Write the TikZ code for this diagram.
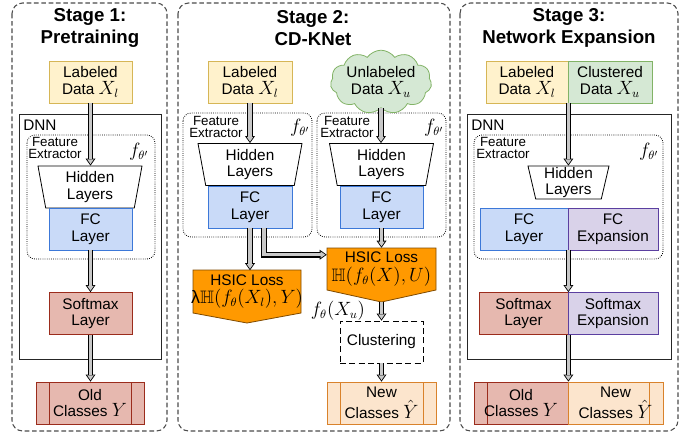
\documentclass[tikz,border=0pt]{standalone}
\usepackage[no-math]{fontspec}
\setmainfont{Liberation Sans}
\usepackage{amssymb}
\usetikzlibrary{shapes.geometric,shapes.symbols,arrows.meta,positioning}

\definecolor{labfill}{HTML}{FFF2CC}
\definecolor{labdraw}{HTML}{D6B656}
\definecolor{unlfill}{HTML}{D5E8D4}
\definecolor{unldraw}{HTML}{82B366}
\definecolor{fcfill}{HTML}{C9DAF8}
\definecolor{fcdraw}{HTML}{3C78D8}
\definecolor{smfill}{HTML}{E6B8AF}
\definecolor{smdraw}{HTML}{9B2C1C}
\definecolor{expfill}{HTML}{D9D2E9}
\definecolor{expdraw}{HTML}{5B3FA0}
\definecolor{newfill}{HTML}{FCE5CD}
\definecolor{newdraw}{HTML}{D9822B}
\definecolor{lossfill}{HTML}{FF9900}
\definecolor{lossdraw}{HTML}{7F4A00}
\definecolor{arrowgray}{HTML}{C8C8C8}

\newcommand{\mx}[1]{{\fontsize{13.5}{12}\selectfont$#1$}}

\begin{document}
\begin{tikzpicture}[
    x=0.75pt, y=-0.75pt,
    font=\fontsize{11.5}{12.5}\selectfont,
    box/.style={draw, line width=0.6pt, minimum width=62.25pt, minimum height=31.5pt, inner sep=0pt, align=center},
    labbox/.style={box, fill=labfill, draw=labdraw},
    unlbox/.style={box, fill=unlfill, draw=unldraw},
    fcbox/.style={box, fill=fcfill, draw=fcdraw},
    smbox/.style={box, fill=smfill, draw=smdraw},
    expbox/.style={box, fill=expfill, draw=expdraw},
    oldbox/.style={box, fill=smfill, draw=smdraw},
    newbox/.style={box, fill=newfill, draw=newdraw},
    clusbox/.style={box, draw=black, dash pattern=on 4.5pt off 2.5pt},
    bars/.style={path picture={\draw[#1, line width=0.6pt]
        ([xshift=9.75pt]path picture bounding box.north west) -- ([xshift=9.75pt]path picture bounding box.south west)
        ([xshift=-9.75pt]path picture bounding box.north east) -- ([xshift=-9.75pt]path picture bounding box.south east);}},
    lbar/.style={path picture={\draw[#1, line width=0.6pt]
        ([xshift=9.75pt]path picture bounding box.north west) -- ([xshift=9.75pt]path picture bounding box.south west);}},
    rbar/.style={path picture={\draw[#1, line width=0.6pt]
        ([xshift=-10.5pt]path picture bounding box.north east) -- ([xshift=-10.5pt]path picture bounding box.south east);}},
    hidbox/.style={trapezium, trapezium left angle=104, trapezium right angle=104, trapezium stretches body,
        draw, line width=0.6pt, fill=white, minimum width=78pt, minimum height=31.5pt, inner sep=0pt, align=center},
    cloudbox/.style={cloud, cloud puffs=11, cloud puff arc=110, aspect=1.9, draw=unldraw, fill=unlfill,
        line width=0.6pt, minimum width=71.25pt, minimum height=36.75pt, inner sep=0pt, align=center},
    lossshape/.style={draw=lossdraw, fill=lossfill, line width=0.6pt, line join=miter},
    losstext/.style={minimum width=81pt, minimum height=31.5pt, inner sep=0pt, align=center},
    titletext/.style={font=\fontsize{14}{16.5}\selectfont\bfseries, align=center},
    fetext/.style={font=\fontsize{10}{9.5}\selectfont, align=center, inner sep=0pt},
    dnntext/.style={anchor=west, inner sep=0pt},
    ftheta/.style={font=\fontsize{13.5}{13.5}\selectfont, inner sep=0pt},
    stageframe/.style={draw=black!70, line width=0.8pt, dash pattern=on 3.5pt off 2pt, rounded corners=8pt},
    dnnframe/.style={draw=black!85, line width=0.7pt},
    feframe/.style={draw=black, line width=0.6pt, densely dotted, rounded corners=6pt},
    flow/.style={draw=black, line width=4.2pt, -{Triangle[length=5.3pt, width=7.5pt, line width=0pt]},
        postaction={draw=arrowgray, line width=2.6pt, -{Triangle[length=3.6pt, width=5pt, line width=0pt, color=arrowgray]}, shorten >=1.07pt}}
    ]
    \useasboundingbox (0,0) rectangle (694,437);

    % frames
    \draw [stageframe] (12,3) rectangle (167,431);
    \draw [stageframe] (178,3) rectangle (450,431);
    \draw [stageframe] (460,3) rectangle (678,431);
    \draw [dnnframe] (19,114) rectangle (161,359);
    \draw [dnnframe] (467,114) rectangle (671,359);
    \draw [feframe] (27,135) rectangle (155,259);
    \draw [feframe] (183,113) rectangle (312,237);
    \draw [feframe] (317,113) rectangle (446,237);
    \draw [feframe] (474,135) rectangle (663,259);

    % stage 1
    \node [titletext] (t1) at (90,28) {Stage 1:\\Pretraining};
    \node [labbox] (lab1) at (90.5,82) {Labeled\\Data \mx{X_l}};
    \node [dnntext] (dnn1) at (23,125) {DNN};
    \node [fetext] (fe1) at (55,148) {Feature\\Extractor};
    \node [ftheta] (ft1) at (139,152) {$f_{\theta'}$};
    \node [hidbox] (hid1) at (90,187) {Hidden\\Layers};
    \node [fcbox] (fc1) at (90.5,229) {FC\\Layer};
    \node [smbox] (sm1) at (90.5,313.5) {Softmax\\Layer};
    \node [oldbox, bars=smdraw, minimum width=81pt] (old1) at (90,403) {Old\\Classes \mx{Y}};

    % stage 2
    \node [titletext] (t2) at (313,28) {Stage 2:\\CD-KNet};
    \node [labbox, minimum width=63pt] (lab2) at (250,82) {Labeled\\Data \mx{X_l}};
    \node [cloudbox] (unl2) at (381,82) {Unlabeled\\Data \mx{X_u}};
    \node [fetext] (fe2a) at (216,127) {Feature\\Extractor};
    \node [fetext] (fe2b) at (347,127) {Feature\\Extractor};
    \node [ftheta] (ft2a) at (300,128) {$f_{\theta'}$};
    \node [ftheta] (ft2b) at (434,128) {$f_{\theta'}$};
    \node [hidbox] (hid2a) at (250,164.5) {Hidden\\Layers};
    \node [hidbox] (hid2b) at (381.5,164.5) {Hidden\\Layers};
    \node [fcbox, minimum width=63pt] (fc2a) at (250,207) {FC\\Layer};
    \node [fcbox] (fc2b) at (381.5,207) {FC\\Layer};
    \filldraw [lossshape] (193,270) -- (301,270) -- (301,313) -- (247,323) -- (193,313) -- cycle;
    \node [losstext] (hsic2a) at (247,291.5) {HSIC Loss\\[1.5pt]{\fontsize{13.5}{12}\selectfont λ$\mathbb{H}\big(f_\theta(X_l),Y\big)$}};
    \filldraw [lossshape] (327,248) -- (436,248) -- (436,290) -- (381.5,302) -- (327,290) -- cycle;
    \node [losstext, minimum width=81.75pt] (hsic2b) at (381.5,269) {HSIC Loss\\[1.5pt]\mx{\mathbb{H}\big(f_\theta(X),U\big)}};
    \coordinate (tip2b) at (381.5,302);
    \node [ftheta] (fxu) at (338,311) {$f_\theta(X_u)$};
    \node [clusbox] (clus2) at (381.5,342) {Clustering};
    \node [newbox, bars=newdraw, minimum width=81.75pt] (new2) at (381.5,403) {New\\[1pt]Classes \mx{\hat{Y}}};

    % stage 3
    \node [titletext] (t3) at (569,28) {Stage 3:\\Network Expansion};
    \node [labbox, minimum width=61.5pt] (lab3) at (527,82) {Labeled\\Data \mx{X_l}};
    \node [unlbox, minimum width=63pt] (clu3) at (610,82) {Clustered\\Data \mx{X_u}};
    \node [dnntext] (dnn3) at (471,125) {DNN};
    \node [fetext] (fe3) at (503,148) {Feature\\Extractor};
    \node [ftheta] (ft3) at (649,152) {$f_{\theta'}$};
    \node [hidbox, minimum width=60.75pt, minimum height=24.75pt] (hid3) at (568.5,182.5) {Hidden\\Layers};
    \node [fcbox, minimum width=66pt] (fc3) at (524,229) {FC\\Layer};
    \node [expbox, minimum width=67.5pt] (fcx3) at (613,229) {FC\\Expansion};
    \node [smbox, minimum width=66.75pt] (sm3) at (523.5,313.5) {Softmax\\Layer};
    \node [expbox, minimum width=67.5pt] (smx3) at (613,313.5) {Softmax\\Expansion};
    \node [oldbox, lbar=smdraw, minimum width=70.5pt] (old3) at (521,403) {Old\\Classes \mx{Y}};
    \node [newbox, rbar=newdraw, minimum width=71.25pt] (new3) at (615.5,403) {New\\[1pt]Classes \mx{\hat{Y}}};

    % arrows
    \draw [flow] (lab1.south) -- (lab1.south |- hid1.north);
    \draw [flow] (fc1.south) -- (fc1.south |- sm1.north);
    \draw [flow] (sm1.south) -- (sm1.south |- old1.north);

    \draw [flow] (lab2.south) -- (lab2.south |- hid2a.north);
    \draw [flow] (unl2.south) -- (unl2.south |- hid2b.north);
    \draw [flow] (fc2a.south) -- (fc2a.south |- hsic2a.north);
    \draw [flow] ([xshift=10.5pt]fc2a.south) |- ([yshift=-5.25pt]hsic2b.north west);
    \draw [flow] (fc2b.south) -- (fc2b.south |- hsic2b.north);
    \draw [flow] (tip2b) -- (tip2b |- clus2.north);
    \draw [flow] (clus2.south) -- (clus2.south |- new2.north);

    \draw [flow] (lab3.south east) -- (lab3.south east |- hid3.north);
    \draw [flow] (fc3.south east) -- (fc3.south east |- sm3.north);
    \draw [flow] (sm3.south east) -- (sm3.south east |- old3.north);

\end{tikzpicture}
\end{document}
